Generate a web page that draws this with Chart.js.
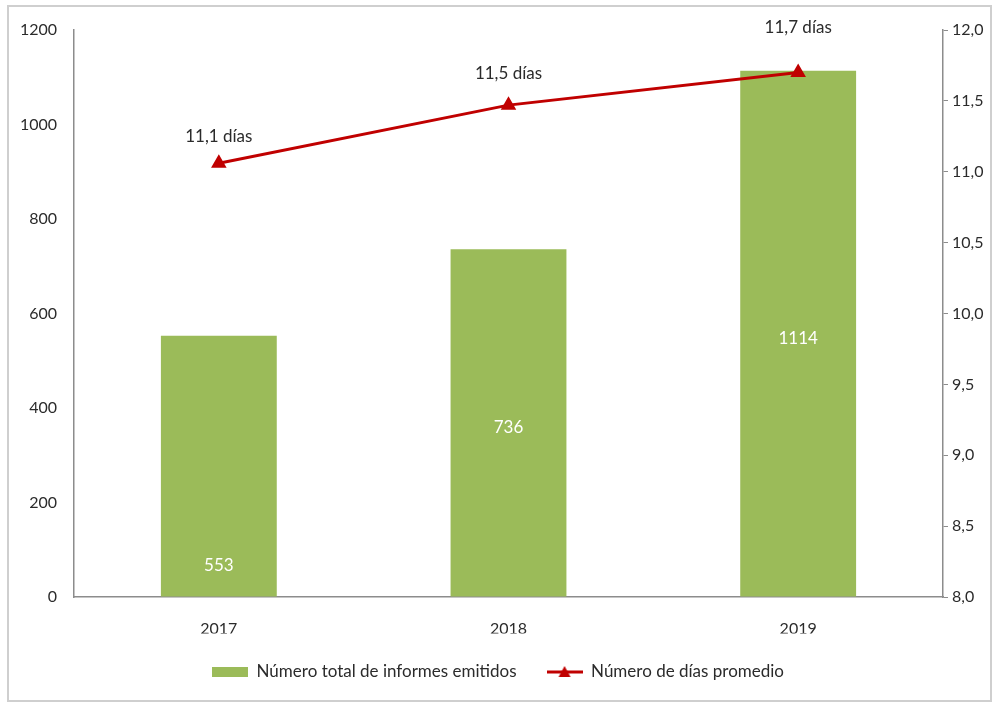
<!DOCTYPE html>
<html lang="es">
<head>
    <meta charset="UTF-8" />
    <title>Informes emitidos y días promedio</title>
    <script src="https://cdn.jsdelivr.net/npm/chart.js"></script>
    <style>
        body {
            margin: 0;
            background: #fff;
        }
        .marco {
            position: absolute;
            left: 7px;
            top: 5px;
            width: 981px;
            height: 693px;
            border: 2px solid #cfcfcf;
        }
        canvas {
            position: absolute;
            left: 0;
            top: 0;
        }
    </style>
</head>
<body>
    <div class="marco"></div>
    <canvas id="grafico" width="996" height="702"></canvas>

    <script>
        const anios = ["2017", "2018", "2019"];
        const informes = [553, 736, 1114];
        const diasPromedio = [11.06, 11.47, 11.7];
        const ticksIzq = [0, 200, 400, 600, 800, 1000, 1200];
        const ticksDer = [8.0, 8.5, 9.0, 9.5, 10.0, 10.5, 11.0, 11.5, 12.0];

        const verde = "#9bbb59";
        const rojo = "#c00000";
        const texto = "#2b2b2b";
        const fuente = "Lato, 'Liberation Sans', sans-serif";

        const coma = v => v.toFixed(1).replace(".", ",");

        // muestras para la leyenda
        function muestraBarra() {
            const c = document.createElement("canvas");
            c.width = 36; c.height = 12;
            const g = c.getContext("2d");
            g.fillStyle = verde;
            g.fillRect(0, 1, 36, 10);
            return c;
        }
        function muestraLinea() {
            const c = document.createElement("canvas");
            c.width = 36; c.height = 12;
            const g = c.getContext("2d");
            g.strokeStyle = rojo;
            g.lineWidth = 3;
            g.beginPath(); g.moveTo(0, 6); g.lineTo(36, 6); g.stroke();
            g.fillStyle = rojo;
            g.beginPath(); g.moveTo(18, 0); g.lineTo(24, 11); g.lineTo(12, 11); g.closePath(); g.fill();
            return c;
        }

        // separación de cada rótulo de la línea sobre su punto
        const alturaRotulo = [27, 32, 45];

        const etiquetas = {
            id: "etiquetas",
            afterDatasetsDraw(chart) {
                const ctx = chart.ctx;
                ctx.save();
                ctx.font = "17px " + fuente;
                ctx.textAlign = "center";
                ctx.textBaseline = "middle";
                ctx.fillStyle = "#ffffff";
                chart.getDatasetMeta(0).data.forEach((bar, i) => {
                    const y = i === 0 ? bar.base - 31 : (bar.y + bar.base) / 2 + 5;
                    ctx.fillText(String(informes[i]), bar.x, y);
                });
                ctx.fillStyle = texto;
                chart.getDatasetMeta(1).data.forEach((pt, i) => {
                    ctx.fillText(coma(diasPromedio[i]) + " días", pt.x, pt.y - alturaRotulo[i]);
                });
                ctx.restore();
            }
        };

        const ctx = document.getElementById("grafico").getContext("2d");
        new Chart(ctx, {
            data: {
                labels: anios,
                datasets: [{
                    type: "bar",
                    label: "Número total de informes emitidos",
                    data: informes,
                    backgroundColor: verde,
                    barPercentage: 0.4,
                    categoryPercentage: 1,
                    yAxisID: "yIzq",
                    order: 1
                }, {
                    type: "line",
                    label: "Número de días promedio",
                    data: diasPromedio,
                    borderColor: rojo,
                    backgroundColor: rojo,
                    borderWidth: 3,
                    pointStyle: "triangle",
                    pointRadius: 6,
                    tension: 0,
                    yAxisID: "yDer",
                    order: 0
                }]
            },
            options: {
                responsive: false,
                animation: false,
                layout: {
                    padding: { top: 30, left: 0, right: 0, bottom: 11.5 }
                },
                plugins: {
                    tooltip: { enabled: false },
                    legend: {
                        position: "bottom",
                        labels: {
                            usePointStyle: true,
                            pointStyleWidth: 36,
                            padding: 30,
                            color: texto,
                            font: { family: fuente, size: 17 },
                            generateLabels: chart => [
                                { text: chart.data.datasets[0].label, pointStyle: muestraBarra(), fillStyle: verde, strokeStyle: "transparent", lineWidth: 0, datasetIndex: 0, fontColor: texto },
                                { text: chart.data.datasets[1].label, pointStyle: muestraLinea(), fillStyle: rojo, strokeStyle: "transparent", lineWidth: 0, datasetIndex: 1, fontColor: texto }
                            ]
                        }
                    }
                },
                scales: {
                    x: {
                        grid: { drawOnChartArea: false, drawTicks: false },
                        border: { color: "#8c8c8c", width: 1.5 },
                        ticks: { color: texto, font: { family: fuente, size: 16 }, padding: 22 },
                        afterFit: s => { s.height = 36.5; }
                    },
                    yIzq: {
                        position: "left",
                        min: 0,
                        max: 1200,
                        afterBuildTicks: s => { s.ticks = ticksIzq.map(v => ({ value: v })); },
                        grid: { drawOnChartArea: false, drawTicks: false },
                        border: { color: "#8c8c8c", width: 1.5 },
                        ticks: { color: texto, font: { family: fuente, size: 16 }, padding: 17, callback: v => String(v) },
                        afterFit: s => { s.width = 74; }
                    },
                    yDer: {
                        position: "right",
                        min: 8,
                        max: 12,
                        afterBuildTicks: s => { s.ticks = ticksDer.map(v => ({ value: v })); },
                        grid: { drawOnChartArea: false, tickLength: 5, color: "#8c8c8c" },
                        border: { color: "#8c8c8c", width: 1.5 },
                        ticks: { color: texto, font: { family: fuente, size: 16 }, padding: 4, callback: v => coma(v) },
                        afterFit: s => { s.width = 53; }
                    }
                }
            },
            plugins: [etiquetas]
        });
    </script>
</body>
</html>
